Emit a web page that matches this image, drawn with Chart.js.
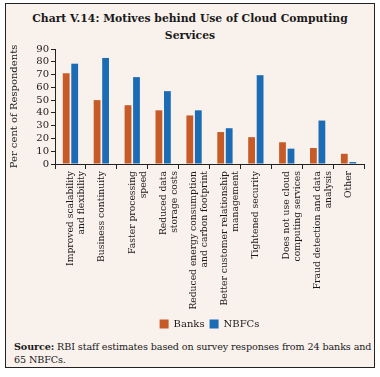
<!DOCTYPE html>
<html>
<head>
<meta charset="utf-8">
<script src="https://cdn.jsdelivr.net/npm/chart.js@4.4.0/dist/chart.umd.min.js"></script>
<style>
  html,body{margin:0;padding:0;background:#fff;}
  #frame{position:absolute;left:5px;top:3px;width:368px;height:363px;border:1px solid #222;background:#f9f1ec;font-family:"DejaVu Serif",serif;color:#1a1a1a;}
  #title{position:absolute;left:0;top:6px;width:368px;text-align:center;font-weight:bold;font-size:10.8px;line-height:17px;}
  #wrap{position:absolute;left:0;top:37px;width:368px;height:298px;}
  #src{position:absolute;left:8px;top:336px;width:360px;font-size:9.6px;line-height:13px;letter-spacing:-0.1px;}
</style>
</head>
<body>
<div id="frame">
  <div id="title">Chart V.14: Motives behind Use of Cloud Computing<br>Services</div>
  <div id="wrap"><canvas id="c"></canvas></div>
  <div id="src"><b>Source:</b> RBI staff estimates based on survey responses from 24 banks and 65 NBFCs.</div>
</div>
<script>
const categories=[
  ['Improved scalability','and flexibility'],
  'Business continuity',
  ['Faster processing','speed'],
  ['Reduced data','storage costs'],
  ['Reduced energy consumption','and carbon footprint'],
  ['Better customer relationship','management'],
  'Tightened security',
  ['Does not use cloud','computing services'],
  ['Fraud detection and data','analysis'],
  'Other'
];
const banks=[71,50,46,42,38,25,21,17,12.5,8];
const nbfcs=[78.5,83,68,57,42,28,69.5,12,34,1.5];
const yTicks=[0,10,20,30,40,50,60,70,80,90];

(function(){
  const font={family:'"DejaVu Serif", serif',size:9.2};
  // centre the legend under the plot area rather than the whole canvas
  const legendUnderPlot={id:'legendUnderPlot',afterLayout(chart){
    const lg=chart.legend,ca=chart.chartArea;if(!lg)return;
    lg.left=ca.left;lg.right=ca.right;
  }};
  const ctx=document.getElementById('c');
  new Chart(ctx,{
    type:'bar',
    data:{labels:categories,datasets:[
      {label:'Banks',data:banks,backgroundColor:'#c65b27',categoryPercentage:0.55,barPercentage:0.8},
      {label:'NBFCs',data:nbfcs,backgroundColor:'#1b6cb5',categoryPercentage:0.55,barPercentage:0.8}
    ]},
    options:{
      responsive:true,maintainAspectRatio:false,animation:false,
      layout:{padding:{top:3,right:10,left:2,bottom:0}},
      plugins:{
        legend:{position:'bottom',labels:{color:'#1a1a1a',font:{family:font.family,size:10},boxWidth:9,boxHeight:9,padding:5}},
        tooltip:{enabled:false}
      },
      scales:{
        x:{
          grid:{drawOnChartArea:false,drawTicks:true,tickLength:5,color:'#222',offset:true},
          border:{color:'#222'},
          ticks:{color:'#1a1a1a',font:font,minRotation:90,maxRotation:90,autoSkip:false,padding:2},
          afterFit:function(s){s.height=150;}
        },
        y:{
          min:0,max:90,
          afterBuildTicks:function(s){s.ticks=yTicks.map(v=>({value:v}));},
          grid:{drawOnChartArea:false,drawTicks:true,tickLength:4,color:'#222'},
          border:{color:'#222'},
          ticks:{color:'#1a1a1a',font:{family:font.family,size:10},padding:2,autoSkip:false},
          title:{display:true,text:'Per cent of Respondents',color:'#1a1a1a',font:{family:font.family,size:10},padding:{top:0,bottom:4}},
          afterFit:function(s){s.width=47;}
        }
      }
    },
    plugins:[legendUnderPlot]
  });
})();
</script>
</body>
</html>
